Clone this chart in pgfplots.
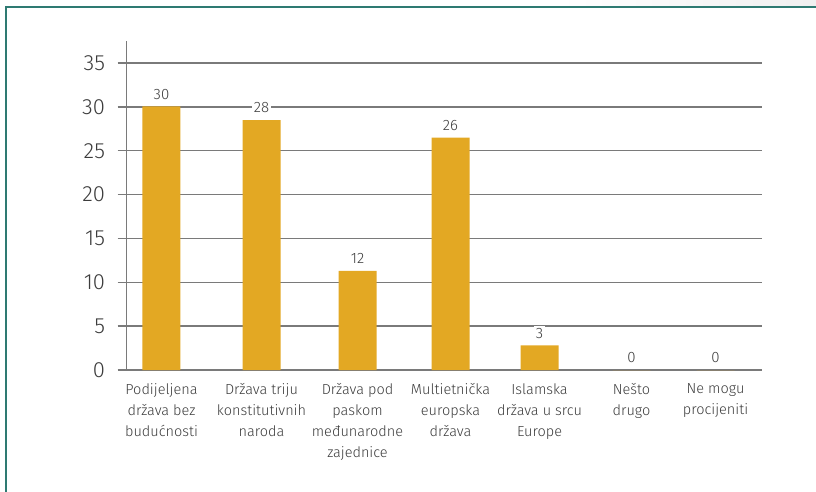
\documentclass[border=0pt]{standalone}
\usepackage{fontspec}
\setmainfont{Fira Sans}[UprightFont=* Light, BoldFont=* Medium]
\usepackage{pgfplots}
\pgfplotsset{compat=1.18}
\definecolor{barcol}{HTML}{E3A823}
\definecolor{gridcol}{HTML}{7A7A7A}
\definecolor{txt}{HTML}{3C3C3C}
\definecolor{framecol}{HTML}{2E7A72}
\begin{document}
\begin{tikzpicture}[x=1pt,y=1pt]
\useasboundingbox (0,0) rectangle (816,492);
\shade[left color=white, right color=gray!12] (560,486) rectangle (816,492);
\draw[framecol, line width=1.5pt] (6,0) -- (6,485) -- (816,485);
\begin{axis}[
  at={(137,139)}, anchor=south west,
  scale only axis, width=635pt, height=329pt,
  xmin=-0.379, xmax=6.498, ymin=0, ymax=37.5,
  axis lines=left, axis line style={gridcol, line width=1.5pt, -},
  ytick={0,5,...,35}, ymajorgrids, grid style={gridcol, line width=1.5pt},
  tick align=outside, major tick length=9pt, ytick style={gridcol, line width=1.5pt},
  xtick={0,1.083,2.123,3.130,4.094,5.090,6}, xtick style={draw=none},
  /pgf/number format/assume math mode=true,
  xticklabels={{Podijeljena\\država bez\\budućnosti},{Država triju\\konstitutivnih\\naroda},{Država pod\\paskom\\međunarodne\\zajednice},{Multietnička\\europska\\država},{Islamska\\država u srcu\\Europe},{Nešto\\drugo},{Ne mogu\\procijeniti}},
  xticklabel style={align=center, font=\fontsize{14.5}{21}\selectfont, text=txt, anchor=north, yshift=-1pt},
  yticklabel style={font=\fontsize{22}{22}\selectfont, text=txt, xshift=-9pt},
  ybar, bar width=38pt,
  nodes near coords, point meta=explicit symbolic,
  every node near coord/.append style={font=\fontsize{15}{15}\selectfont, text=txt, fill=white, inner sep=2pt, yshift=5pt},
  clip=false
]
\addplot[fill=barcol, draw=none] coordinates {(0,30.05)[30] (1.083,28.5)[28] (2.123,11.3)[12] (3.130,26.5)[26] (4.094,2.8)[3] (5.090,0)[0] (6,0)[0]};
\end{axis}
\end{tikzpicture}
\end{document}
